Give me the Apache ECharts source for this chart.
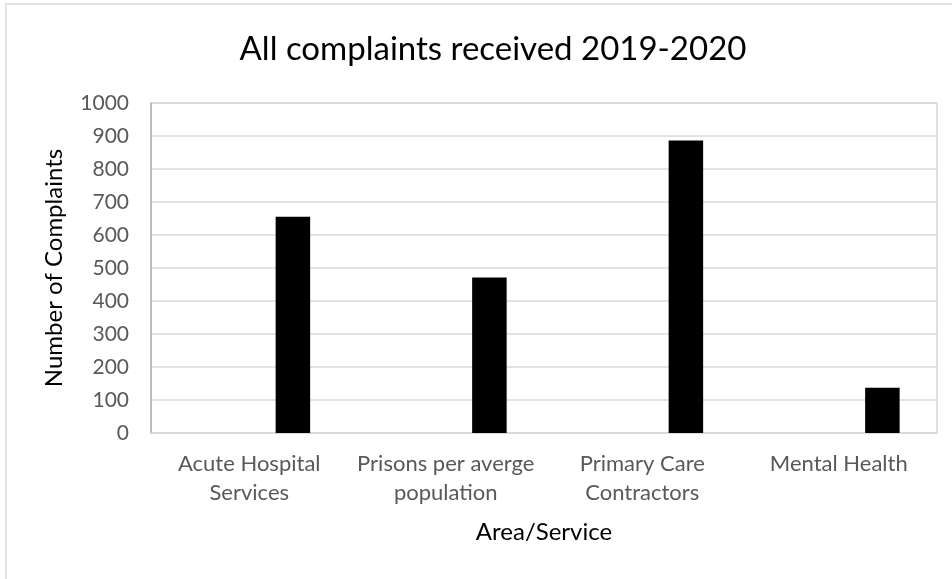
<!DOCTYPE html>
<html>
<head>
<meta charset="utf-8">
<script src="https://cdn.jsdelivr.net/npm/echarts@6/dist/echarts.min.js"></script>
<style>
  html, body { margin: 0; padding: 0; background: #ffffff; }
  #chart { width: 952px; height: 579px; }
</style>
</head>
<body>
<div id="chart"></div>
<script>
// Complaints by area/service, 2019-2020
const titleText = 'All complaints received 2019-2020';
const categories = ['Acute Hospital\nServices', 'Prisons per averge\npopulation', 'Primary Care\nContractors', 'Mental Health'];
const placeholderValues = [null, null, null, null];
const complaintCounts = [655, 471, 886, 137];
const yTicks = { min: 0, max: 1000, interval: 100 };
const xAxisTitle = 'Area/Service';
const yAxisTitle = 'Number of Complaints';

const FONT = 'Lato, "Open Sans", sans-serif';

const chart = echarts.init(document.getElementById('chart'), null, { renderer: 'canvas' });

chart.setOption({
  backgroundColor: '#ffffff',
  animation: false,
  title: {
    text: titleText,
    left: 488,
    top: 28,
    textAlign: 'center',
    textStyle: { fontFamily: FONT, fontSize: 33, fontWeight: 'normal', color: '#000000' }
  },
  graphic: [{
    type: 'rect',
    shape: { x: 6, y: 4, width: 980, height: 620 },
    style: { fill: 'none', stroke: '#d9d9d9', lineWidth: 1.5 },
    silent: true,
    z: -1
  }],
  grid: {
    left: 151, right: 15, top: 103, bottom: 146,
    show: true, borderColor: '#bfbfbf', borderWidth: 1, backgroundColor: 'transparent'
  },
  xAxis: {
    type: 'category',
    data: categories,
    name: xAxisTitle,
    nameLocation: 'middle',
    nameGap: 87,
    nameTextStyle: { fontFamily: FONT, fontSize: 24, color: '#000000' },
    axisLine: { show: true, lineStyle: { color: '#d9d9d9', width: 1.5 } },
    axisTick: { show: false },
    axisLabel: {
      interval: 0, margin: 16,
      fontFamily: FONT, fontSize: 22, lineHeight: 29, color: '#595959'
    },
    splitLine: { show: false }
  },
  yAxis: {
    type: 'value',
    min: yTicks.min, max: yTicks.max, interval: yTicks.interval,
    name: yAxisTitle,
    nameLocation: 'middle',
    nameGap: 85,
    nameRotate: 90,
    nameTextStyle: { fontFamily: FONT, fontSize: 24, color: '#000000' },
    axisLine: { show: true, lineStyle: { color: '#b3b3b3', width: 1.5 } },
    axisTick: { show: false },
    axisLabel: {
      margin: 22, fontFamily: FONT, fontSize: 21, color: '#595959',
      formatter: (v) => String(v)
    },
    splitLine: { show: true, lineStyle: { color: '#d9d9d9', width: 1.5 } }
  },
  series: [
    {
      name: 'Placeholder',
      type: 'bar',
      data: placeholderValues,
      barWidth: 34.5,
      barGap: '153%',
      itemStyle: { color: '#000000' }
    },
    {
      name: 'Complaints',
      type: 'bar',
      data: complaintCounts,
      barWidth: 34.5,
      barGap: '153%',
      itemStyle: { color: '#000000' }
    }
  ]
});
</script>
</body>
</html>
